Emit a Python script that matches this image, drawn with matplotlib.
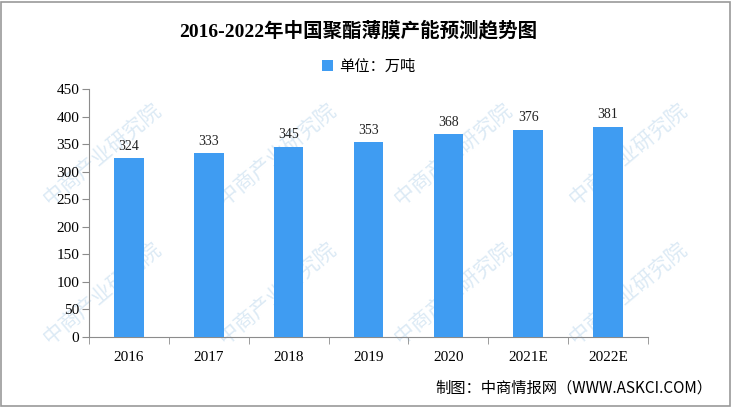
import numpy as np
import matplotlib.pyplot as plt
from matplotlib.patches import Rectangle

plt.rcParams['font.family'] = ['Liberation Serif', 'Noto Sans CJK SC', 'DejaVu Sans']

years = ["2016", "2017", "2018", "2019", "2020", "2021E", "2022E"]
capacity = [324, 333, 345, 353, 368, 376, 381]

bar_color = '#3F9CF2'
axis_color = '#8C8C8C'

fig = plt.figure(figsize=(7.31, 4.08), dpi=100)
ax = fig.add_axes([0.1218, 0.174, 0.7647, 0.608], zorder=2)

# faint watermark, kept inside the frame
for wx in [0.14, 0.38, 0.62, 0.86]:
    for wy in [0.28, 0.62]:
        fig.text(wx, wy, "中商产业研究院", fontsize=15, rotation=40, color='#DCEAF5',
                 family=['Noto Sans CJK SC'], zorder=0, ha='center', va='center')

x = np.arange(len(years))
ax.bar(x, capacity, width=0.37, color=bar_color, zorder=3, label="单位：万吨")
for xi, v in zip(x, capacity):
    ax.text(xi, v + 10, str(v), ha='center', va='bottom', fontsize=10, color='#222222')

ax.set_xlim(-0.5, len(years) - 0.5)
ax.set_ylim(0, 450)
ax.set_yticks(np.arange(0, 451, 50))
ax.tick_params(axis='y', length=5, color=axis_color, labelsize=11, pad=2)
ax.set_xticks(x)
ax.set_xticklabels(years, fontsize=11)
ax.tick_params(axis='x', length=0, pad=10)
ax.set_xticks(np.arange(-0.5, len(years), 1), minor=True)
ax.tick_params(axis='x', which='minor', length=5, color=axis_color)
for s in ['top', 'right']:
    ax.spines[s].set_visible(False)
for s in ['left', 'bottom']:
    ax.spines[s].set_color(axis_color)
ax.patch.set_alpha(0)

fig.text(0.49, 0.926, "2016-2022年中国聚酯薄膜产能预测趋势图", ha='center', va='center',
         fontsize=14, fontweight='bold')
ax.legend(loc='center', bbox_to_anchor=(0.5, 1.09), frameon=False,
          handlelength=0.7, handleheight=0.7, handletextpad=0.4,
          prop={'family': ['Noto Sans CJK SC'], 'size': 11})

fig.text(0.975, 0.05, "制图：中商情报网（WWW.ASKCI.COM）", ha='right', va='center',
         fontsize=11, family=['Noto Sans CJK SC', 'DejaVu Sans'])

fig.patches.append(Rectangle((0.002, 0.004), 0.996, 0.992, transform=fig.transFigure,
                             fill=False, edgecolor='#999999', linewidth=1.2))

fig.savefig('out.png', dpi=100)
